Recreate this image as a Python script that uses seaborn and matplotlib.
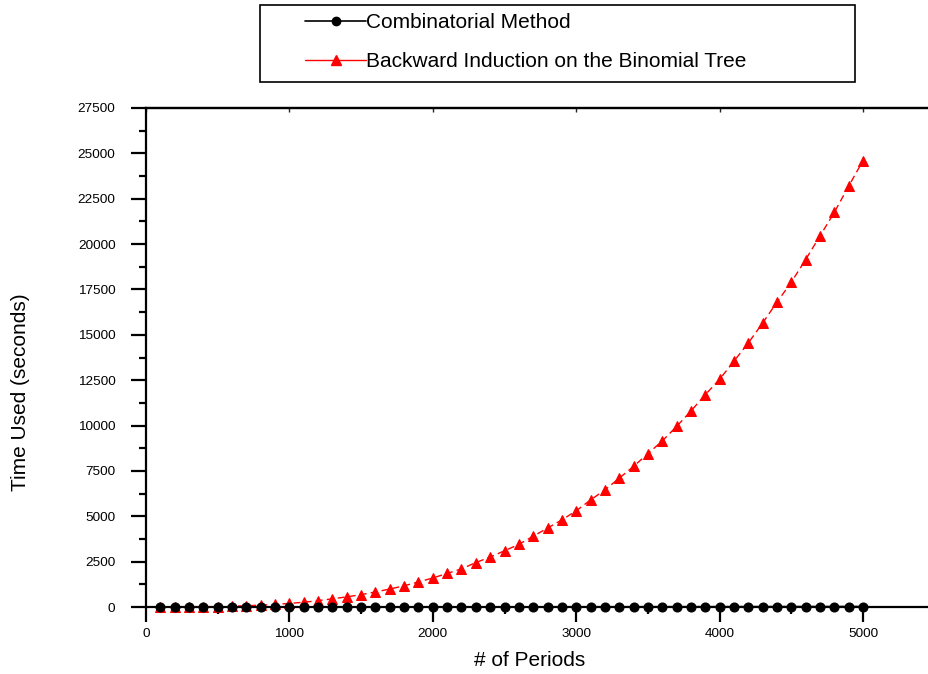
import numpy as np
import pandas as pd
import matplotlib
matplotlib.use("Agg")
import matplotlib.pyplot as plt
from matplotlib.lines import Line2D
from matplotlib.patches import Rectangle
from matplotlib.ticker import MultipleLocator
import seaborn as sns

sns.set_theme(style="white")
plt.rcParams["font.family"] = ["Liberation Sans", "DejaVu Sans"]
plt.rcParams["text.color"] = "black"
plt.rcParams["axes.labelcolor"] = "black"

# Data
periods = list(range(100, 5001, 100))
combinatorial = [0, 0, 0, 0, 0, 1, 1, 1, 1, 2,
                 2, 2, 3, 3, 3, 4, 4, 5, 5, 6,
                 6, 7, 7, 8, 8, 9, 9, 10, 10, 11,
                 12, 12, 13, 14, 14, 15, 16, 16, 17, 18,
                 19, 20, 20, 21, 22, 23, 24, 25, 26, 27]
backward = [1, 3, 8, 15, 25, 45, 70, 100, 140, 200,
            260, 350, 450, 560, 680, 830, 990, 1170, 1380, 1600,
            1850, 2100, 2450, 2750, 3100, 3450, 3900, 4350, 4800, 5300,
            5900, 6450, 7100, 7750, 8450, 9150, 9950, 10800, 11700, 12550,
            13550, 14550, 15650, 16800, 17900, 19150, 20450, 21750, 23200, 24600]
labels = ["Combinatorial Method", "Backward Induction on the Binomial Tree"]

df = pd.DataFrame({"periods": periods,
                   "comb": combinatorial,
                   "back": backward})

fig = plt.figure(figsize=(9.29, 6.74), dpi=100)
ax = fig.add_axes([146 / 929, 1 - 607 / 674, 1 - 146 / 929, (607 - 108) / 674])

sns.lineplot(data=df, x="periods", y="comb", ax=ax, color="black",
             marker="o", markersize=6.5, markeredgecolor="black",
             linewidth=1.2, clip_on=False, zorder=4)
sns.lineplot(data=df, x="periods", y="back", ax=ax, color="red",
             marker="^", markersize=7.5, markeredgecolor="red",
             linewidth=1.0, dashes=(5, 3), clip_on=False, zorder=3)

ax.set_xlim(0, 5460)
ax.set_ylim(0, 27500)

ax.xaxis.set_major_locator(MultipleLocator(1000))
ax.xaxis.set_minor_locator(MultipleLocator(500))
ax.yaxis.set_major_locator(MultipleLocator(2500))
ax.yaxis.set_minor_locator(MultipleLocator(1250))

ax.tick_params(axis="both", which="major", direction="out", length=11, width=1.6,
               labelsize=9.7, color="black", labelcolor="black")
ax.tick_params(axis="both", which="minor", direction="out", length=5, width=1.6,
               color="black")
ax.tick_params(axis="x", which="major", pad=4)
ax.tick_params(axis="y", which="major", pad=11)
ax.tick_params(bottom=True, left=True, which="both")

for side in ["left", "bottom", "top"]:
    ax.spines[side].set_visible(True)
    ax.spines[side].set_color("black")
    ax.spines[side].set_linewidth(1.6)
ax.spines["right"].set_visible(False)

top = ax.secondary_xaxis("top")
top.xaxis.set_major_locator(MultipleLocator(1000))
top.tick_params(direction="in", length=3, width=1.0, labelsize=0, labeltop=False)
top.spines["top"].set_linewidth(1.6)

ax.set_xlabel("# of Periods", fontsize=15)
ax.set_ylabel("Time Used (seconds)", fontsize=15)
ax.xaxis.set_label_coords((530 - 146) / 783, -(651 - 607) / 499)
ax.yaxis.set_label_coords(-(146 - 30) / 783, (607 - 392) / 499)

# legend: solid handles inside a plain rectangular box
handles = [
    Line2D([], [], color="black", linewidth=1.2, marker="o", markersize=6),
    Line2D([], [], color="red", linewidth=1.0, marker="^", markersize=7),
]
box = Rectangle((260 / 929, 1 - 82 / 674), 595 / 929, 77 / 674,
                transform=fig.transFigure, fill=False, edgecolor="black",
                linewidth=1.2)
fig.patches.append(box)
leg = fig.legend(handles, labels, loc="center left",
                 bbox_to_anchor=(305 / 929, 1 - 42 / 674),
                 fontsize=15, frameon=False, handlelength=2.95,
                 handletextpad=0.0, borderpad=0, labelspacing=0.95,
                 borderaxespad=0)

plt.savefig("out.png", dpi=100)
plt.close()
